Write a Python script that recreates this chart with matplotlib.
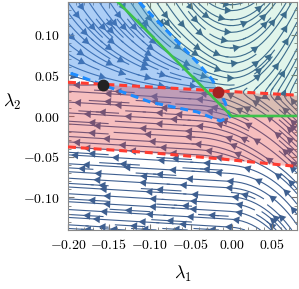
import numpy as np
import matplotlib
matplotlib.use('Agg')
import matplotlib.pyplot as plt
from matplotlib.patches import FancyArrowPatch

plt.rcParams['mathtext.fontset'] = 'cm'
plt.rcParams['font.family'] = 'serif'
plt.rcParams['font.serif'] = ['DejaVu Serif']

# axis ranges and ticks
xlim = (-0.20, 0.08)
ylim = (-0.14, 0.14)
xticks = [-0.20, -0.15, -0.10, -0.05, 0.00, 0.05]
yticks = [-0.10, -0.05, 0.00, 0.05, 0.10]

# upper red dashed boundary
red1_x = [-0.20, -0.10, 0.00, 0.08]
red1_y = [0.0415, 0.0357, 0.0300, 0.0256]
# lower red dashed boundary
red2_x = [-0.20, -0.10, -0.01, 0.08]
red2_y = [-0.038, -0.045, -0.053, -0.062]
# green solid line
green_x = [-0.139, 0.0, 0.08]
green_y = [0.14, 0.0, 0.0]
# blue dashed boundary (top edge -> left edge)
blue_x = [-0.113, -0.042, -0.024, -0.008, -0.002, -0.014, -0.042,
          -0.071, -0.099, -0.135, -0.192, -0.20]
blue_y = [0.14, 0.066, 0.045, 0.017, -0.001, -0.006, 0.005,
          0.011, 0.017, 0.030, 0.051, 0.053]
# equilibrium points
black_pt = (-0.157, 0.038)
red_pt = (-0.0166, 0.030)


def sig(z):
    return 1.0 / (1.0 + np.exp(-z))


def field(X, Y):
    l1 = np.interp(X, red1_x, red1_y)
    l2 = np.interp(X, red2_x, red2_y)
    w_up = sig((Y - l1) / 0.003)
    w_low = sig((l2 - Y) / 0.003)
    w_mid = np.clip(1 - w_up - w_low, 0, 1)
    u_up = np.ones_like(X)
    v_up = np.maximum(25 * X, -0.3 - 14 * (Y - 0.05))
    u_mid = -np.ones_like(X)
    v_mid = 0.06 + 8 * np.maximum(X + 0.04, 0)
    u_low = -np.ones_like(X)
    v_low = 0.06 + 12 * np.maximum(X, 0) * (0.5 - Y / 0.14)
    U = w_up * u_up + w_mid * u_mid + w_low * u_low
    V = w_up * v_up + w_mid * v_mid + w_low * v_low
    return U, V


fig = plt.figure(figsize=(2.99, 2.89), dpi=100)
ax = fig.add_axes([0.2274, 0.2042, 0.7659, 0.7888])

xs = np.linspace(xlim[0], xlim[1], 240)
ys = np.linspace(ylim[0], ylim[1], 240)
X, Y = np.meshgrid(xs, ys)
U, V = field(X, Y)
stream_col = '#3e5f90'
sp = ax.streamplot(X, Y, U, V, density=1.5, color=stream_col, linewidth=0.8,
                   arrowstyle='-', zorder=1)

# each segment is one streamline here; put several heads along it
for k, seg in enumerate(sp.lines.get_segments()):
    tr = np.asarray(seg)
    if len(tr) < 3:
        continue
    nx = (tr[:, 0] - xlim[0]) / (xlim[1] - xlim[0])
    ny = (tr[:, 1] - ylim[0]) / (ylim[1] - ylim[0])
    d = np.hypot(np.diff(nx), np.diff(ny))
    keep = np.concatenate([[True], d > 1e-9])
    tr, nx, ny = tr[keep], nx[keep], ny[keep]
    if len(tr) < 3:
        continue
    cum = np.concatenate([[0], np.cumsum(np.hypot(np.diff(nx), np.diff(ny)))])
    total = cum[-1]
    if total < 0.03:
        continue
    first = min(0.04 + (k % 4) * 0.045, total / 2)
    for t in np.arange(first, total, 0.19):
        i = int(np.searchsorted(cum, t))
        i = min(max(i, 1), len(tr) - 1)
        ax.add_patch(FancyArrowPatch(tuple(tr[i - 1]), tuple(tr[i]),
                                     arrowstyle='-|>,head_length=0.5,head_width=0.28',
                                     mutation_scale=10, color=stream_col, lw=0.01,
                                     shrinkA=0, shrinkB=0, zorder=1))

# regions drawn over the streams so they get tinted
ax.fill(blue_x + [xlim[0]], blue_y + [ylim[1]], color=(65/255, 142/255, 235/255),
        alpha=0.43, lw=0, zorder=2)
xx = np.linspace(xlim[0], xlim[1], 100)
ax.fill_between(xx, np.interp(xx, red2_x, red2_y), np.interp(xx, red1_x, red1_y),
                color=(230/255, 60/255, 60/255), alpha=0.33, lw=0, zorder=2)
ax.fill(green_x + [xlim[1]], green_y + [ylim[1]], color=(55/255, 188/255, 122/255),
        alpha=0.15, lw=0, zorder=2)

ax.plot(blue_x, blue_y, color='#1e8cff', lw=2.2, dashes=(2.6, 1.6), zorder=3)
ax.plot(red1_x, red1_y, color='#ff3b30', lw=2.2, dashes=(2.6, 1.6), zorder=3)
ax.plot(red2_x, red2_y, color='#ff3b30', lw=2.2, dashes=(2.6, 1.6), zorder=3)
ax.plot(green_x, green_y, color='#3cc24a', lw=1.9, zorder=3)
ax.plot(*black_pt, 'o', color='#222222', ms=7.5, zorder=4)
ax.plot(*red_pt, 'o', color='#a32222', ms=7.5, zorder=4)

ax.set_xlim(xlim)
ax.set_ylim(ylim)
ax.set_xticks(xticks)
ax.set_yticks(yticks)
ax.set_xticks(np.arange(-0.20, 0.081, 0.01), minor=True)
ax.set_yticks(np.arange(-0.14, 0.141, 0.01), minor=True)
ax.set_xticklabels(['$%.2f$' % t if t < 0 else '$%.2f$' % abs(t) for t in xticks])
ax.set_yticklabels(['$%.2f$' % t if t < 0 else '$%.2f$' % abs(t) for t in yticks])
ax.tick_params(which='both', direction='in', top=True, right=True,
               color='#777777', labelsize=10, pad=6)
ax.tick_params(which='major', length=4)
ax.tick_params(which='minor', length=2)
for s in ax.spines.values():
    s.set_color('#888888')
    s.set_linewidth(0.8)

ax.set_xlabel(r'$\lambda_1$', fontsize=13, ha='center', va='center')
ax.set_ylabel(r'$\lambda_2$', fontsize=13, rotation=0, ha='center', va='center')
ax.xaxis.set_label_coords(0.5, -0.195)
ax.yaxis.set_label_coords(-0.245, 0.56)

fig.savefig('out.png', dpi=100)
